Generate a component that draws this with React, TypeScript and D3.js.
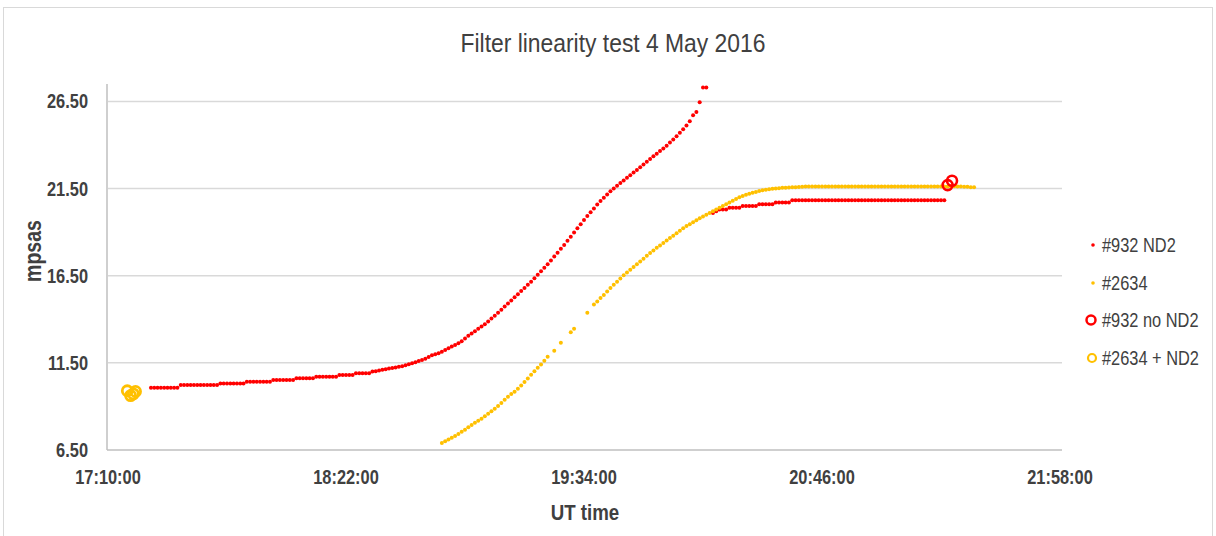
import * as d3 from "d3";
import type { ReactNode } from "react";

// readings, one per minute
const redRun1Start = "17:23:00";
const redRun1 = [
  10.07, 10.07, 10.07, 10.07, 10.07, 10.07, 10.07, 10.07, 10.07,
  10.23, 10.23, 10.23, 10.23, 10.23, 10.23, 10.23, 10.23, 10.23, 10.23, 10.23, 10.23,
  10.32, 10.32, 10.32, 10.32, 10.32, 10.32, 10.32, 10.32,
  10.42, 10.42, 10.42, 10.42, 10.42, 10.42, 10.42, 10.42,
  10.51, 10.51, 10.51, 10.51, 10.51, 10.51, 10.51,
  10.61, 10.61, 10.61, 10.61, 10.61, 10.61,
  10.70, 10.70, 10.70, 10.70, 10.70, 10.70, 10.70,
  10.80, 10.80, 10.80, 10.80, 10.80,
  10.90, 10.90, 10.90, 10.90, 10.90,
  11.00, 11.02, 11.06, 11.10, 11.14,
  11.18, 11.21, 11.24, 11.27, 11.31,
  11.36, 11.42, 11.48, 11.54, 11.60,
  11.66, 11.74, 11.84, 11.93, 12.00,
  12.05, 12.14, 12.24, 12.34, 12.44,
  12.53, 12.62, 12.74, 12.90, 13.05,
  13.18, 13.31, 13.45, 13.58, 13.72,
  13.88, 14.04, 14.20, 14.37, 14.55,
  14.73, 14.91, 15.08, 15.26, 15.44,
  15.62, 15.80, 15.98, 16.16, 16.36,
  16.56, 16.76, 16.96, 17.16, 17.38,
  17.60, 17.82, 18.04, 18.26, 18.50,
  18.74, 18.98, 19.22, 19.46, 19.70,
  19.92, 20.14, 20.36, 20.58, 20.78,
  20.98, 21.16, 21.34, 21.50, 21.66,
  21.82, 21.97, 22.12, 22.27, 22.42,
  22.57, 22.72, 22.88, 23.04, 23.20,
  23.35, 23.50, 23.65, 23.80, 23.96,
  24.14, 24.32, 24.50, 24.70, 24.90,
  25.12, 25.36, 25.70, 25.90, 26.45,
  27.30, 27.30,
];
const redRun2Start = "20:13:00";
const redRun2 = [
  20.10, 20.20, 20.30, 20.30, 20.30, 20.40, 20.40, 20.40, 20.40,
  20.50, 20.50, 20.50, 20.50, 20.50, 20.60, 20.60, 20.60, 20.60, 20.60,
  20.70, 20.70, 20.70, 20.70, 20.70,
  20.83, 20.83, 20.83, 20.83, 20.83, 20.83, 20.83, 20.83, 20.83, 20.83,
  20.83, 20.83, 20.83, 20.83, 20.83, 20.83, 20.83, 20.83, 20.83, 20.83,
  20.83, 20.83, 20.83, 20.83, 20.83, 20.83, 20.83, 20.83, 20.83, 20.83,
  20.83, 20.83, 20.83, 20.83, 20.83, 20.83, 20.83, 20.83, 20.83, 20.83,
  20.83, 20.83, 20.83, 20.83, 20.83, 20.83, 20.83,
];
const goldStart = "18:51:00";
const goldValues: (number | null)[] = [
  6.90, 7.00, 7.10, 7.20, 7.30,
  7.42, 7.55, 7.66, 7.80, 7.94,
  8.06, 8.18, 8.30, 8.44, 8.58,
  8.72, 8.86, 9.02, 9.20, 9.38,
  9.56, 9.72, 9.84, 10.02, 10.20,
  10.40, 10.60, 10.82, 11.02, 11.22,
  11.40, 11.62, 11.85,
  null, 12.20, null, 12.65, null, null, 13.25, 13.45, null, null, null, 14.38, null,
  14.85, 15.02, 15.22, 15.40,
  15.60, 15.80, 15.98, 16.16, 16.34,
  16.52, 16.68, 16.84, 17.00, 17.16,
  17.32, 17.48, 17.64, 17.80, 17.95,
  18.10, 18.24, 18.38, 18.52, 18.66,
  18.80, 18.94, 19.08, 19.22, 19.35,
  19.46, 19.57, 19.68, 19.79, 19.90,
  20.00, 20.10, 20.20, 20.30, 20.40,
  20.50, 20.60, 20.70, 20.80, 20.90,
  21.00, 21.08, 21.14, 21.20, 21.26,
  21.31, 21.36, 21.40, 21.43, 21.46,
  21.49, 21.50, 21.52, 21.54, 21.55,
  21.56, 21.57, 21.58, 21.59, 21.60,
  21.62, 21.62, 21.62, 21.62, 21.62, 21.62, 21.62, 21.62, 21.62, 21.62,
  21.62, 21.62, 21.62, 21.62, 21.62, 21.62, 21.62, 21.62, 21.62, 21.62,
  21.62, 21.62, 21.62, 21.62, 21.62, 21.62, 21.62, 21.62, 21.62, 21.62,
  21.62, 21.62, 21.62, 21.62, 21.62, 21.62, 21.62, 21.62, 21.62, 21.62,
  21.62, 21.62, 21.62, 21.62, 21.64, 21.64, 21.62, 21.62, 21.60, 21.60,
  21.58, 21.58,
];
const redNoNd2Times = ["21:24:00", "21:25:20"];
const redNoNd2Values = [21.70, 21.95];
const goldNd2Times = ["17:15:50", "17:16:50", "17:17:40", "17:18:20"];
const goldNd2Values = [9.90, 9.62, 9.72, 9.86];

const xTicks = ["17:10:00", "18:22:00", "19:34:00", "20:46:00", "21:58:00"];
const yTicks = [6.5, 11.5, 16.5, 21.5, 26.5];
const legendLabels = ["#932 ND2", "#2634", "#932 no ND2", "#2634 + ND2"];

const RED = "#ff0000";
const GOLD = "#ffc000";
const INK = "#404040";
const FONT = "'Liberation Sans', Arial, sans-serif";

const parse = d3.utcParse("%H:%M:%S");

type Pt = { t: Date; v: number };

function run(start: string, vals: (number | null)[]): Pt[] {
  const s = parse(start) as Date;
  const out: Pt[] = [];
  vals.forEach((v, i) => {
    if (v != null) out.push({ t: d3.utcMinute.offset(s, i), v });
  });
  return out;
}

// narrow text: Liberation Sans squeezed horizontally, like a narrow face
function NText(props: {
  x: number; y: number; size: number; sx?: number; rotate?: number;
  anchor?: "start" | "middle" | "end"; bold?: boolean; children: ReactNode;
}) {
  const { x, y, size, sx = 0.82, rotate = 0, anchor = "start", bold } = props;
  return (
    <text
      transform={`translate(${x},${y}) rotate(${rotate}) scale(${sx},1)`}
      textAnchor={anchor} fontSize={size} fontWeight={bold ? "bold" : "normal"} fill={INK}>
      {props.children}
    </text>
  );
}

export default function App() {
  const width = 1216;
  const height = 536;
  const left = 108, right = 1060, top = 84, bottom = 450;

  const x = d3.scaleUtc()
    .domain([parse("17:10:00") as Date, parse("21:58:00") as Date])
    .range([left, right]);
  const y = d3.scaleLinear().domain([6.5, 27.5]).range([bottom, top]);

  const red = [...run(redRun1Start, redRun1), ...run(redRun2Start, redRun2)];
  const gold = run(goldStart, goldValues);
  const redC = redNoNd2Times.map((t, i) => ({ t: parse(t) as Date, v: redNoNd2Values[i] }));
  const goldC = goldNd2Times.map((t, i) => ({ t: parse(t) as Date, v: goldNd2Values[i] }));

  const legendY = [245, 283, 320, 358];

  return (
    <svg width={width} height={height}
      style={{ position: "absolute", left: 0, top: 0, background: "#fff" }}
      fontFamily={FONT}>
      <rect x={3.5} y={7.5} width={1209} height={530} fill="#fff" stroke="#d9d9d9" />
      <NText x={613} y={52} size={26} sx={0.88} anchor="middle">Filter linearity test 4 May 2016</NText>

      {yTicks.map((t) => (
        <g key={t}>
          {t > 6.5 && <line x1={left} x2={right + 2} y1={y(t)} y2={y(t)} stroke="#d9d9d9" strokeWidth={1.5} />}
          <NText x={88} y={y(t) + 7} size={20} anchor="end" bold>{t.toFixed(2)}</NText>
        </g>
      ))}
      <line x1={left - 1} x2={left - 1} y1={top} y2={bottom} stroke="#bfbfbf" strokeWidth={1.5} />
      <line x1={left - 1} x2={right + 2} y1={bottom} y2={bottom} stroke="#bfbfbf" strokeWidth={1.5} />

      {xTicks.map((t) => (
        <NText key={t} x={x(parse(t) as Date)} y={484} size={20} anchor="middle" bold>{t}</NText>
      ))}

      <NText x={585} y={520} size={22} sx={0.85} anchor="middle" bold>UT time</NText>
      <NText x={41} y={251} size={23} sx={0.85} rotate={-90} anchor="middle" bold>mpsas</NText>

      <g>
        {red.map((d, i) => (
          <circle key={"r" + i} cx={x(d.t)} cy={y(d.v)} r={2} fill={RED} />
        ))}
        {gold.map((d, i) => (
          <circle key={"g" + i} cx={x(d.t)} cy={y(d.v)} r={2} fill={GOLD} />
        ))}
        {redC.map((d, i) => (
          <circle key={"rc" + i} cx={x(d.t)} cy={y(d.v)} r={5} fill="none" stroke={RED} strokeWidth={2.6} />
        ))}
        {goldC.map((d, i) => (
          <circle key={"gc" + i} cx={x(d.t)} cy={y(d.v)} r={5} fill="none" stroke={GOLD} strokeWidth={2.8} />
        ))}
      </g>

      <g>
        <circle cx={1093} cy={legendY[0]} r={1.8} fill={RED} />
        <circle cx={1093} cy={legendY[1]} r={1.8} fill={GOLD} />
        <circle cx={1091} cy={legendY[2]} r={4.5} fill="none" stroke={RED} strokeWidth={2.5} />
        <circle cx={1092} cy={legendY[3]} r={4} fill="none" stroke={GOLD} strokeWidth={2.2} />
        {legendLabels.map((l, i) => (
          <NText key={l} x={1102} y={legendY[i] + 7} size={20}>{l}</NText>
        ))}
      </g>
    </svg>
  );
}
